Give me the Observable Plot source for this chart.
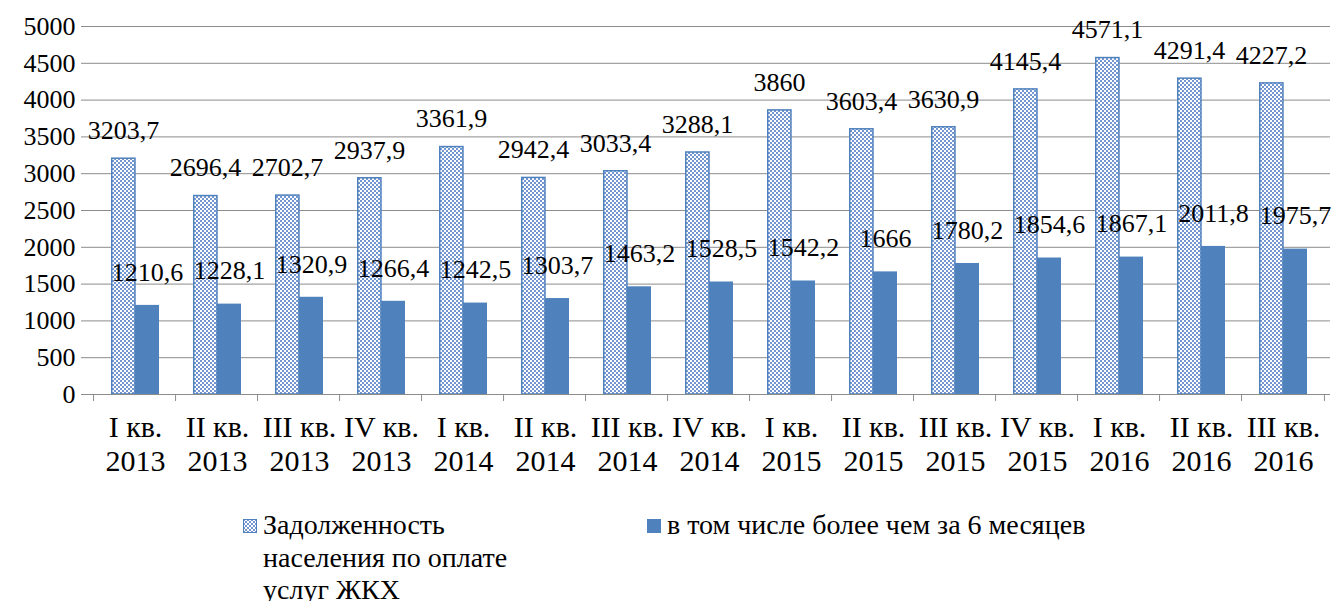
<!DOCTYPE html>
<html><head><meta charset="utf-8">
<script src="https://cdn.jsdelivr.net/npm/d3@7"></script>
<script src="https://cdn.jsdelivr.net/npm/@observablehq/plot@0.6"></script>
<style>
body{margin:0;background:#fff;font-family:'Liberation Serif','Times New Roman',serif;}
#chart svg{display:block;}
#legend{position:relative;height:117px;font-family:'Liberation Serif','Times New Roman',serif;font-size:28px;line-height:32.5px;color:#000;overflow:hidden;}
.item{position:absolute;top:25px;display:flex;align-items:flex-start;}
.sw{width:14px;height:14px;margin-top:10px;margin-right:6px;flex:none;display:block;}
</style></head>
<body>
<div id="chart"></div>
<div id="legend"></div>
<script>
const quarters = ["I кв.","II кв.","III кв.","IV кв.","I кв.","II кв.","III кв.","IV кв.","I кв.","II кв.","III кв.","IV кв.","I кв.","II кв.","III кв."];
const years = ["2013","2013","2013","2013","2014","2014","2014","2014","2015","2015","2015","2015","2016","2016","2016"];
const debtTotal = [3203.7,2696.4,2702.7,2937.9,3361.9,2942.4,3033.4,3288.1,3860,3603.4,3630.9,4145.4,4571.1,4291.4,4227.2];
const debtOver6 = [1210.6,1228.1,1320.9,1266.4,1242.5,1303.7,1463.2,1528.5,1542.2,1666,1780.2,1854.6,1867.1,2011.8,1975.7];
const seriesNames = ["Задолженность населения по оплате услуг ЖКХ","в том числе более чем за 6 месяцев"];
const yTicks = [0,500,1000,1500,2000,2500,3000,3500,4000,4500,5000];

const blue = "#4f81bd";
const gridColor = "#8c8c8c";
const FF = "'Liberation Serif', 'Times New Roman', serif";
const keys = quarters.map((q,i)=>q+"\n"+years[i]);
const rows1 = keys.map((k,i)=>({cat:k, value:debtTotal[i]}));
const rows2 = keys.map((k,i)=>({cat:k, value:debtOver6[i]}));
const fmt = v => String(v).replace(".", ",");
const PAD = 0.42;
const W = 1341, ML = 87, MR = 11;
const step = (W-ML-MR)/keys.length;
const half = step*(1-PAD)/2;

function catTicks(index, scales, values, dims) {
  const g = d3.create("svg:g");
  const bw = scales.x.bandwidth ? scales.x.bandwidth() : 0;
  const y0 = dims.height - dims.marginBottom;
  const bounds = keys.map(k => scales.x(k) - (step - bw)/2);
  bounds.push(scales.x(keys[keys.length-1]) + bw + (step-bw)/2);
  for (const b of bounds) {
    g.append("line").attr("x1", b).attr("x2", b).attr("y1", y0).attr("y2", y0+7)
      .attr("stroke", gridColor).attr("stroke-width", 1);
  }
  return g.node();
}

const plot = Plot.plot({
  width: W, height: 484,
  marginLeft: ML, marginRight: MR, marginTop: 26, marginBottom: 90,
  style: {fontFamily: FF, fontSize:"26px", color:"#000", background:"#fff"},
  x: {domain: keys, paddingInner: PAD, paddingOuter: PAD/2, align: 0.5, label: null},
  y: {domain: [0,5000], label: null},
  marks: [
    Plot.ruleY(yTicks.filter(d=>d>0), {stroke: gridColor, strokeWidth: 1, strokeOpacity: 1}),
    Plot.barY(rows1, {x:"cat", y:"value", fill:"url(#chk)", stroke: blue, strokeWidth: 1.5, insetRight: half, insetLeft: 0.75}),
    Plot.barY(rows2, {x:"cat", y:"value", fill: blue, insetLeft: half}),
    Plot.ruleY([0], {stroke: gridColor, strokeWidth: 1}),
    Plot.ruleX([0], {x: () => null, frameAnchor: "left", y1: 0, y2: 5000, stroke: gridColor}),
    Plot.axisY({ticks: yTicks, tickSize: 6, tickPadding: 6, tickFormat: d=>String(d), stroke: gridColor, fontFamily: FF, fontSize: 26}),
    Plot.axisX({tickSize: 0, tickPadding: 19, lineHeight: 1.12, tickFormat: d=>d, fontFamily: FF, fontSize: 30}),
    catTicks,
    Plot.text(rows1, {x:"cat", y:"value", text: d=>fmt(d.value), dx: -half/2, dy: -28, fontFamily: FF, fontSize: 26, fill:"#000"}),
    Plot.text(rows2, {x:"cat", y:"value", text: d=>fmt(d.value), dx: half/2, dy: -33, fontFamily: FF, fontSize: 26, fill:"#000"})
  ]
});

const svg = d3.select(plot);
const defs = svg.insert("defs", ":first-child");
const pat = defs.append("pattern").attr("id","chk").attr("patternUnits","userSpaceOnUse").attr("width",4).attr("height",4);
pat.append("rect").attr("width",4).attr("height",4).attr("fill","#ffffff");
pat.append("rect").attr("x",0).attr("y",0).attr("width",2).attr("height",2).attr("fill","#7396d0");
pat.append("rect").attr("x",2).attr("y",2).attr("width",2).attr("height",2).attr("fill","#7396d0");
document.getElementById("chart").appendChild(plot);

const legend = d3.select("#legend");
const it1 = legend.append("div").attr("class","item").style("left","243px");
it1.append("svg").attr("class","sw").attr("width",14).attr("height",14)
  .call(s=>{s.append("rect").attr("x",0.5).attr("y",0.5).attr("width",13).attr("height",13).attr("fill","url(#chk)").attr("stroke",blue);});
it1.append("span").style("width","270px").style("display","block").text(seriesNames[0]);
const it2 = legend.append("div").attr("class","item").style("left","647px").style("width","660px");
it2.append("div").attr("class","sw").style("background",blue);
it2.append("span").text(seriesNames[1]);
</script>
</body></html>
